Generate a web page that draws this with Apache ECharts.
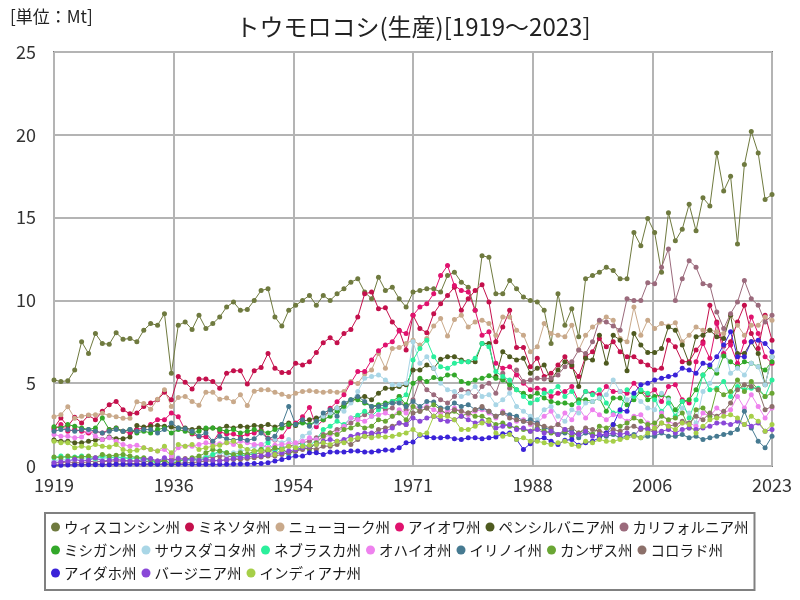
<!DOCTYPE html>
<html><head><meta charset="utf-8">
<script src="https://cdn.jsdelivr.net/npm/echarts@6/dist/echarts.min.js"></script>
<style>html,body{margin:0;padding:0;background:#fff}#c{width:800px;height:600px}</style>
</head><body><div id="c"></div>
<script>
const startYear = 1919;
const endYear = 2023;
const xTickLabels = ['1919','1936','1954','1971','1988','2006','2023'];
const yTickLabels = ['0','5','10','15','20','25'];
const seriesNames = ['ウィスコンシン州','ミネソタ州','ニューヨーク州','アイオワ州','ペンシルバニア州','カリフォルニア州','ミシガン州','サウスダコタ州','ネブラスカ州','オハイオ州','イリノイ州','カンザス州','コロラド州','アイダホ州','バージニア州','インディアナ州'];

const wisconsin = [5.2,5.1,5.15,5.8,7.5,6.8,8.0,7.4,7.35,8.05,
 7.65,7.7,7.5,8.2,8.6,8.5,9.2,5.6,8.5,8.7,
 8.25,9.1,8.3,8.6,9.0,9.6,9.9,9.4,9.45,10.0,
 10.6,10.7,9.0,8.45,9.4,9.7,10.0,10.3,9.7,10.3,
 10.0,10.4,10.7,11.1,11.3,10.5,10.1,11.4,10.6,10.8,
 10.1,9.6,10.5,10.6,10.7,10.7,10.5,11.5,11.7,11.1,
 10.8,9.4,12.7,12.6,10.4,10.4,11.2,10.7,10.2,10.0,
 9.9,9.4,7.4,10.4,8.5,9.5,7.8,11.3,11.5,11.7,
 12.0,11.8,11.3,11.3,14.1,13.3,14.95,14.1,11.7,15.3,
 13.6,14.3,15.8,14.2,16.2,15.7,18.9,16.6,17.5,13.4,
 18.2,20.2,18.9,16.1,16.4];
const minnesota = [2.3,2.9,2.4,2.95,2.6,3.05,2.8,3.3,3.7,3.9,
 3.4,3.15,3.2,3.6,3.8,4.0,4.45,4.0,5.4,5.05,
 4.65,5.25,5.25,5.1,4.7,5.6,5.75,5.75,4.95,5.75,
 5.95,6.8,5.9,5.65,5.65,6.2,6.1,6.3,6.85,7.45,
 7.75,7.45,8.0,8.25,9.0,10.4,10.5,9.5,9.55,8.7,
 8.2,7.0,9.1,8.3,8.05,9.2,9.8,10.3,10.8,9.4,
 10.1,10.6,10.95,9.9,7.5,8.4,9.4,7.15,7.15,6.0,
 6.5,5.4,5.6,6.1,6.6,6.0,5.4,6.6,6.9,7.7,
 7.2,7.5,6.9,6.6,6.6,6.3,6.1,5.8,5.9,7.6,
 7.2,6.3,6.3,7.0,7.5,9.7,8.7,7.25,7.5,8.7,
 9.7,8.0,7.1,9.1,7.6];
const newYork = [2.97,3.1,3.58,2.88,3.0,3.08,3.1,3.18,3.05,2.97,
 2.88,2.88,3.88,3.78,3.42,4.03,4.6,3.6,4.13,4.2,
 3.9,3.67,4.45,4.45,4.03,4.1,3.88,4.3,3.65,4.52,
 4.6,4.6,4.45,4.33,4.2,4.4,4.5,4.55,4.5,4.45,
 4.5,4.45,4.5,5.1,4.98,5.56,5.8,6.8,5.9,7.1,
 7.15,7.4,7.6,7.3,7.7,8.45,8.9,7.85,8.85,9.1,
 8.4,8.7,8.8,8.6,7.9,9.0,9.0,8.2,7.9,6.9,
 7.2,8.6,8.0,7.9,7.8,8.5,7.0,7.9,8.4,8.7,
 9.0,8.8,7.7,7.5,9.6,7.9,8.8,8.3,8.6,8.45,
 8.65,7.5,7.9,8.4,8.2,8.2,8.1,8.0,9.1,8.5,
 7.9,8.5,8.5,9.0,8.8];
const iowa = [2.2,2.5,2.1,2.2,2.1,2.0,2.1,2.0,2.2,2.3,
 2.1,2.0,2.2,2.3,2.5,2.8,2.8,3.2,2.98,2.17,
 1.93,1.77,1.77,1.45,2.07,1.93,1.93,1.77,1.93,2.0,
 2.17,1.67,1.57,1.77,2.37,2.6,2.98,3.54,2.37,2.78,
 3.48,3.88,4.3,5.03,5.7,5.7,6.4,6.96,7.3,7.5,
 8.15,8.0,9.1,9.6,9.8,10.4,11.5,12.1,10.9,10.6,
 10.5,9.4,7.9,8.1,6.2,5.9,6.0,5.5,5.0,4.6,
 4.7,4.6,4.2,4.4,4.5,4.8,3.9,4.5,4.4,4.3,
 4.8,4.5,4.5,4.4,5.0,4.5,4.3,4.6,3.9,4.8,
 4.9,4.0,3.8,6.3,7.4,6.5,8.6,6.8,7.3,6.2,
 7.5,9.0,8.0,6.6,6.2];
const pennsylvania = [1.57,1.5,1.5,1.4,1.4,1.5,1.57,1.6,1.75,1.65,
 1.65,1.75,2.45,2.35,2.4,2.45,2.4,2.35,2.3,2.3,
 2.2,2.3,2.2,2.3,2.25,2.4,2.3,2.4,2.35,2.45,
 2.4,2.5,2.35,2.5,2.6,2.45,2.7,2.8,2.9,3.0,
 3.3,3.5,3.7,3.9,4.1,4.2,4.0,4.4,4.7,4.7,
 4.8,4.9,5.8,5.8,6.1,5.9,6.44,6.6,6.6,6.4,
 6.3,6.3,7.4,7.4,5.4,6.9,6.6,6.4,6.5,5.6,
 5.9,6.1,5.2,5.8,6.3,6.1,4.8,6.5,6.4,7.9,
 6.2,7.9,7.6,5.75,8.0,7.3,6.85,6.85,7.1,8.4,
 8.2,7.3,6.2,7.8,7.9,8.2,7.8,7.7,9.1,6.8,
 6.8,7.5,6.8,4.9,6.6];
const california = [0.2,0.2,0.25,0.2,0.2,0.25,0.3,0.25,0.3,0.3,
 0.3,0.3,0.3,0.25,0.3,0.3,0.35,0.4,0.4,0.45,
 0.4,0.5,0.5,0.55,0.6,0.6,0.55,0.6,0.7,0.7,
 0.8,0.9,1.0,1.1,1.2,1.3,1.4,1.5,1.7,1.9,
 2.0,2.2,2.4,2.6,2.9,3.1,3.3,3.6,3.4,3.5,
 4.2,3.4,4.0,5.2,4.6,4.3,4.0,3.8,4.2,4.6,
 4.5,4.2,4.8,5.0,4.4,5.6,4.7,5.8,5.1,5.2,
 5.3,5.25,5.3,5.5,6.0,6.3,7.0,6.8,7.5,8.8,
 8.7,8.45,8.2,10.1,10.0,10.0,11.07,11.0,12.0,13.1,
 10.0,11.3,12.4,12.0,11.0,10.9,9.3,8.3,9.2,9.9,
 11.2,10.1,9.7,8.7,9.1];
const michigan = [2.37,2.3,2.5,2.4,2.3,2.2,2.3,2.9,2.2,2.3,
 2.1,2.2,2.0,2.1,2.0,2.2,2.3,2.0,2.2,2.1,
 2.0,2.1,2.3,2.3,2.2,2.1,2.2,2.0,2.1,2.2,
 2.1,2.0,2.2,2.3,2.5,2.5,2.6,2.5,2.7,2.8,
 3.0,3.3,3.6,4.0,4.0,3.8,3.6,3.7,3.8,3.9,
 4.2,3.7,5.0,5.3,5.1,5.35,5.25,5.5,5.5,5.1,
 5.0,5.2,5.3,5.45,5.3,5.2,4.9,4.6,4.4,4.2,
 4.4,4.1,3.9,3.8,3.8,3.7,4.0,4.0,3.9,4.1,
 3.3,4.1,4.1,3.7,4.0,4.5,4.0,4.2,4.3,4.1,
 3.4,3.9,4.0,4.6,5.5,6.0,5.6,6.65,6.3,6.0,
 6.3,6.2,6.0,5.8,6.3];
const southDakota = [0.3,0.4,0.35,0.4,0.45,0.4,0.4,0.45,0.5,0.5,
 0.5,0.5,0.45,0.4,0.35,0.15,0.4,0.1,0.5,0.3,
 0.4,0.45,0.6,0.7,0.8,0.7,0.8,0.9,1.0,1.2,
 1.3,1.5,1.6,1.4,1.6,1.3,1.8,2.0,2.6,3.0,
 3.2,3.5,3.3,3.8,4.5,5.3,5.4,5.5,5.2,4.9,
 4.9,5.0,7.5,6.2,6.6,5.9,5.0,4.6,4.5,4.2,
 4.4,4.8,4.2,4.3,3.7,4.0,4.4,3.6,3.3,3.0,
 2.8,3.4,3.6,3.0,2.7,3.4,3.2,3.8,3.9,4.1,
 4.3,5.2,4.5,4.0,4.3,3.9,3.5,3.4,4.4,4.0,
 3.0,3.5,3.2,2.6,4.5,5.0,5.8,7.3,5.6,5.9,
 5.5,6.2,6.0,4.9,6.6];
const nebraska = [0.5,0.6,0.5,0.55,0.6,0.5,0.45,0.6,0.5,0.55,
 0.5,0.45,0.5,0.4,0.35,0.1,0.4,0.1,0.3,0.35,
 0.4,0.35,0.5,0.7,0.9,0.8,0.6,0.7,0.6,0.8,
 1.0,1.4,0.9,1.1,0.7,1.0,1.3,1.2,1.6,2.2,
 2.4,2.7,2.5,2.9,3.07,3.3,3.0,3.4,3.6,3.9,
 4.0,4.3,6.4,7.1,7.6,6.6,6.0,5.9,6.2,6.3,
 6.3,6.5,7.4,7.2,5.7,5.4,5.2,4.6,4.2,3.8,
 4.0,4.4,4.5,4.8,4.2,4.5,3.8,4.5,4.3,4.6,
 3.8,3.2,3.3,4.6,4.2,4.6,4.4,4.0,3.3,3.8,
 3.0,3.9,2.9,4.0,5.5,4.6,4.7,5.1,4.2,4.8,
 4.6,4.7,4.7,4.2,5.2];
const ohio = [1.9,1.8,1.8,1.7,1.75,2.1,1.8,1.6,1.7,1.5,
 1.3,1.2,1.25,1.1,1.0,0.9,1.0,0.6,1.1,1.2,
 1.2,1.3,1.4,1.3,1.35,1.4,1.3,1.5,1.4,1.3,
 1.3,1.1,1.25,1.3,1.35,1.4,1.5,1.7,1.6,1.7,
 1.9,2.0,2.4,2.9,2.8,2.7,3.0,3.1,3.2,3.0,
 3.4,3.2,3.6,3.5,3.6,3.4,3.2,3.3,3.5,3.3,
 3.1,3.3,3.4,3.2,2.9,3.3,3.0,2.7,2.8,2.5,
 2.6,3.0,3.3,2.5,3.2,2.8,3.5,2.9,3.4,3.1,
 2.8,3.1,3.0,2.7,3.0,3.1,2.6,2.4,3.2,2.7,
 2.5,2.6,2.6,2.4,3.2,3.0,3.5,3.2,3.4,4.2,
 3.5,4.3,3.6,2.9,3.5];
const illinois = [2.1,2.2,2.2,2.1,2.2,2.2,2.1,2.0,2.1,2.2,
 2.1,2.2,2.1,2.2,2.2,2.0,2.2,2.6,2.3,2.25,
 2.1,1.8,2.0,1.5,1.8,1.65,1.55,1.65,1.55,1.65,
 2.0,1.65,1.8,2.5,3.6,2.5,2.8,2.4,2.7,3.2,
 3.4,3.0,3.8,4.0,4.2,3.9,3.6,3.6,3.7,3.8,
 3.8,3.6,3.9,3.6,3.9,3.86,3.5,3.5,3.8,3.6,
 3.7,3.4,3.5,3.3,3.0,3.2,3.1,3.0,2.7,2.8,
 2.6,2.3,2.2,1.9,2.0,2.2,1.7,2.0,1.9,1.8,
 1.8,1.9,1.7,1.8,1.9,1.7,1.8,1.8,2.0,1.8,
 1.8,1.9,1.7,1.8,1.6,1.7,1.8,1.9,2.0,2.2,
 3.3,2.3,1.5,1.1,1.8];
const kansas = [0.55,0.5,0.6,0.5,0.55,0.6,0.5,0.7,0.6,0.65,
 0.7,0.6,0.5,0.5,0.4,0.2,0.35,0.1,0.3,0.4,
 0.5,0.6,0.8,1.0,0.9,0.8,0.7,0.8,0.7,0.9,
 1.0,0.9,1.1,1.0,0.8,0.9,1.1,1.0,1.4,1.8,
 2.0,1.9,2.2,2.3,2.5,2.3,2.4,2.8,2.7,3.0,
 3.2,2.8,3.6,3.3,3.5,3.7,3.4,3.1,3.3,3.0,
 3.2,3.0,3.0,2.8,2.5,2.6,2.4,2.3,2.2,2.1,
 2.3,2.1,2.0,1.9,2.1,1.8,2.0,2.2,1.9,2.4,
 2.3,2.5,2.4,2.6,2.9,2.7,2.5,2.6,3.0,2.8,
 2.9,3.2,2.3,3.4,3.5,3.0,4.6,4.3,4.5,5.2,
 4.5,5.1,4.6,4.2,4.4];
const colorado = [0.05,0.08,0.1,0.1,0.1,0.1,0.12,0.1,0.1,0.12,
 0.12,0.15,0.15,0.1,0.15,0.1,0.15,0.1,0.15,0.2,
 0.2,0.25,0.3,0.3,0.35,0.35,0.4,0.4,0.45,0.5,
 0.55,0.6,0.6,0.7,0.8,0.9,1.0,1.1,1.0,1.2,
 1.2,1.3,1.5,1.3,1.6,1.8,1.9,2.2,2.3,2.4,
 2.6,2.5,3.2,3.3,3.5,3.0,3.4,3.1,3.4,3.3,
 3.2,3.4,3.6,3.3,3.0,3.2,2.9,2.8,2.7,2.6,
 2.5,2.4,2.3,2.5,2.2,2.3,2.0,2.3,2.2,2.1,
 2.0,2.2,2.1,2.3,2.4,2.2,2.3,2.1,2.6,2.4,
 2.5,2.7,2.6,3.0,2.8,3.2,3.0,3.3,3.8,4.6,
 4.9,4.8,4.6,3.4,3.6];
const idaho = [0.05,0.05,0.06,0.06,0.07,0.07,0.08,0.08,0.08,0.1,
 0.1,0.1,0.1,0.1,0.1,0.1,0.1,0.1,0.1,0.1,
 0.1,0.1,0.1,0.1,0.1,0.1,0.12,0.12,0.12,0.15,
 0.15,0.2,0.3,0.4,0.5,0.6,0.6,0.8,0.8,0.7,
 0.85,0.85,0.85,0.9,0.9,0.85,0.85,0.9,0.97,0.95,
 1.1,1.4,1.45,1.85,1.75,1.7,1.7,1.75,1.65,1.6,
 1.7,1.7,1.65,1.7,1.75,1.95,2.0,1.6,1.0,1.35,
 1.6,1.7,1.5,1.3,1.55,1.6,1.25,1.4,1.5,1.7,
 2.0,2.5,3.4,3.3,4.4,4.9,5.0,5.2,5.3,5.4,
 5.5,5.9,5.8,5.6,6.2,6.1,6.6,7.3,8.1,6.6,
 6.6,7.5,7.6,7.4,6.9];
const virginia = [0.2,0.25,0.3,0.4,0.3,0.35,0.5,0.3,0.35,0.4,
 0.35,0.3,0.3,0.4,0.45,0.3,0.5,0.3,0.45,0.4,
 0.4,0.35,0.4,0.35,0.3,0.4,0.45,0.5,0.55,0.6,
 0.6,0.7,0.75,0.8,0.9,1.0,1.1,1.2,1.3,1.5,
 1.6,1.5,1.6,1.8,1.9,2.0,2.0,1.95,2.1,2.3,
 2.6,2.5,2.9,2.7,2.9,3.0,2.8,2.7,2.8,3.0,
 2.8,2.6,2.7,2.5,2.3,2.4,2.5,2.2,2.3,2.1,
 2.2,2.0,2.1,1.9,2.2,2.0,1.9,2.1,1.8,1.9,
 1.9,2.0,1.9,2.0,1.8,2.3,2.2,2.0,2.1,2.2,
 2.0,2.2,2.3,2.2,2.3,2.4,2.6,2.6,2.5,2.7,
 2.5,2.4,2.6,2.1,2.2];
const indiana = [1.5,1.4,1.4,1.1,1.2,1.1,1.3,1.2,1.15,1.3,
 1.0,0.9,0.95,1.1,1.0,0.9,1.2,0.8,1.3,1.2,
 1.3,1.0,1.1,1.2,1.25,1.4,1.5,1.2,1.0,0.9,
 0.9,1.0,0.7,1.0,1.2,1.1,1.2,1.25,1.3,1.4,
 1.3,1.5,1.4,1.6,1.7,1.8,1.7,1.8,1.75,1.8,
 1.9,2.0,2.2,1.9,2.0,3.0,3.0,3.0,2.8,2.2,
 2.2,2.4,2.6,2.7,2.0,1.8,1.9,1.6,1.7,1.5,
 1.5,1.4,1.3,1.4,1.5,1.3,1.2,1.5,1.4,1.6,
 1.5,1.5,1.6,1.7,1.8,1.7,2.0,2.3,2.6,2.4,
 2.2,2.6,2.5,2.0,2.4,2.8,2.9,3.0,3.1,2.9,
 2.5,3.0,2.7,2.1,2.5];

const allData = [wisconsin, minnesota, newYork, iowa, pennsylvania, california, michigan, southDakota, nebraska, ohio, illinois, kansas, colorado, idaho, virginia, indiana];
const colors = ['#6f7a3f','#c4104c','#c9a98a','#e0126e','#4e5a1f','#9b6a7c','#33a82a','#a9d6e6','#2bef9c','#ee82ee','#467a91','#6aa634','#8c706a','#3a22d8','#8a48d8','#a6cf48'];

const span = endYear - startYear;
const FONT = '"Noto Sans CJK JP", sans-serif';

const chart = echarts.init(document.getElementById('c'));
chart.setOption({
  animation: false,
  backgroundColor: '#ffffff',
  graphic: [
    {type:'text', left: 10, top: 8, style:{text:'[単位：Mt]', font:'17px ' + FONT, fill:'#222'}},
    {type:'text', x: 413, y: 27, style:{text:'トウモロコシ(生産)[1919～2023]', font:'24px ' + FONT, fill:'#222', textAlign:'center', textVerticalAlign:'middle'}}
  ],
  grid: {left: 54, right: 28, top: 52, bottom: 134, show: true, borderColor: '#7a7a7a', borderWidth: 2, backgroundColor:'transparent'},
  xAxis: {
    type: 'value', min: 0, max: span, interval: span / 6,
    axisLine: {show: false}, axisTick: {show: false},
    splitLine: {show: true, lineStyle: {color: '#b4b4b4', width: 2}},
    axisLabel: {color: '#333', fontSize: 18, fontFamily: FONT, margin: 10,
      formatter: function (v, i) { return xTickLabels[i] !== undefined ? xTickLabels[i] : ''; }}
  },
  yAxis: {
    type: 'value', min: 0, max: 25, interval: 5,
    axisLine: {show: false}, axisTick: {show: false},
    splitLine: {show: true, lineStyle: {color: '#b4b4b4', width: 2}},
    axisLabel: {color: '#333', fontSize: 18, fontFamily: FONT, margin: 18,
      formatter: function (v, i) { return yTickLabels[i] !== undefined ? yTickLabels[i] : ''; }}
  },
  legend: {
    left: 45, top: 513, width: 720, padding: [5, 6, 8, 6],
    orient: 'horizontal', itemWidth: 9, itemHeight: 9, itemGap: 5, icon: 'circle',
    borderColor: '#808080', borderWidth: 2, borderRadius: 0,
    textStyle: {fontSize: 14.5, fontFamily: FONT, color: '#1a1a1a', lineHeight: 18, padding: [0,0,0,-1]},
    data: seriesNames
  },
  series: seriesNames.map(function (name, k) {
    return {
      name: name, type: 'line', color: colors[k],
      symbol: 'circle', symbolSize: 5, showSymbol: true,
      lineStyle: {width: 1}, emphasis: {disabled: true},
      data: allData[k].map(function (v, i) { return [i, v]; })
    };
  })
});
</script></body></html>
